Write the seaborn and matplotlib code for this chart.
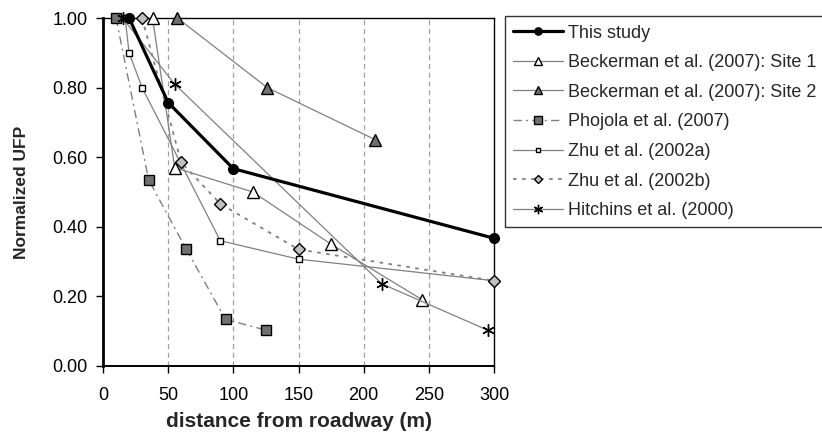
import matplotlib
matplotlib.use("Agg")
import matplotlib.pyplot as plt
import seaborn as sns
import pandas as pd

sns.set_theme(style="white")
plt.rcParams['font.family'] = ['Liberation Sans', 'DejaVu Sans']

series_names = ["This study", "Beckerman et al. (2007): Site 1", "Beckerman et al. (2007): Site 2",
                "Phojola et al. (2007)", "Zhu et al. (2002a)", "Zhu et al. (2002b)", "Hitchins et al. (2000)"]

this_x = [20, 50, 100, 300]
this_y = [1.00, 0.757, 0.567, 0.367]
beck1_x = [38, 55, 115, 175, 245]
beck1_y = [1.00, 0.57, 0.50, 0.35, 0.19]
beck2_x = [57, 126, 209]
beck2_y = [1.00, 0.80, 0.65]
phoj_x = [10, 35, 64, 94, 125]
phoj_y = [1.00, 0.535, 0.335, 0.134, 0.103]
zhua_x = [17, 20, 30, 90, 150, 300]
zhua_y = [1.00, 0.90, 0.80, 0.36, 0.307, 0.245]
zhub_x = [30, 60, 90, 150, 300]
zhub_y = [1.00, 0.585, 0.466, 0.335, 0.245]
hitch_x = [15, 55, 214, 295]
hitch_y = [1.00, 0.81, 0.236, 0.103]

xs = [this_x, beck1_x, beck2_x, phoj_x, zhua_x, zhub_x, hitch_x]
ys = [this_y, beck1_y, beck2_y, phoj_y, zhua_y, zhub_y, hitch_y]

rows = []
for n, xx, yy in zip(series_names, xs, ys):
    for a, b in zip(xx, yy):
        rows.append({"series": n, "distance": a, "ufp": b})
df = pd.DataFrame(rows)

styles = {
    "This study": dict(color="black", lw=2.3, ls="-", marker="o", ms=7, mfc="black", mec="black", z=10),
    "Beckerman et al. (2007): Site 1": dict(color="#808080", lw=0.9, ls="-", marker="^", ms=8, mfc="white", mec="black", z=5),
    "Beckerman et al. (2007): Site 2": dict(color="#808080", lw=0.9, ls="-", marker="^", ms=8, mfc="#707070", mec="black", z=5),
    "Phojola et al. (2007)": dict(color="#808080", lw=1.0, ls=(0, (6, 3, 1.5, 3)), marker="s", ms=7, mfc="#707070", mec="black", z=5),
    "Zhu et al. (2002a)": dict(color="#808080", lw=0.9, ls="-", marker="s", ms=4.5, mfc="white", mec="black", z=5),
    "Zhu et al. (2002b)": dict(color="#808080", lw=1.3, ls=(0, (2, 3)), marker="D", ms=6, mfc="#c0c0c0", mec="black", z=5),
    "Hitchins et al. (2000)": dict(color="#808080", lw=0.9, ls="-", marker=(6, 2, 0), ms=9, mfc="black", mec="black", z=5),
}

fig = plt.figure(figsize=(8.22, 4.32), dpi=100)
ax = fig.add_axes([0.1253, 0.1528, 0.4757, 0.8055])

for n in series_names:
    s = styles[n]
    sub = df[df["series"] == n]
    sns.lineplot(data=sub, x="distance", y="ufp", ax=ax, color=s["color"], lw=s["lw"],
                 linestyle=s["ls"], marker=s["marker"], markersize=s["ms"],
                 markerfacecolor=s["mfc"], markeredgecolor=s["mec"], markeredgewidth=1.0,
                 label=n, zorder=s["z"], clip_on=False, estimator=None, sort=False)

ax.set_xlim(0, 300)
ax.set_ylim(0, 1.0)
ax.set_xticks([0, 50, 100, 150, 200, 250, 300])
ax.set_yticks([0, 0.2, 0.4, 0.6, 0.8, 1.0])
ax.set_yticklabels([f"{v:.2f}" for v in [0, 0.2, 0.4, 0.6, 0.8, 1.0]])
for xv in [50, 100, 150, 200, 250]:
    ax.axvline(xv, color="#a0a0a0", ls=(0, (4, 3)), lw=0.9, zorder=1)
for sp in ax.spines.values():
    sp.set_color("black")
    sp.set_linewidth(1.0)
ax.spines["left"].set_linewidth(2.0)
ax.spines["bottom"].set_linewidth(1.4)
ax.tick_params(axis="both", direction="out", length=5, width=1.0, colors="black", labelsize=13,
               bottom=True, left=True)
ax.tick_params(axis="x", pad=10)
ax.tick_params(axis="y", pad=6)
ax.set_xlabel("distance from roadway (m)", fontsize=15, fontweight="bold", labelpad=6)
ax.set_ylabel("Normalized UFP", fontsize=12.5, fontweight="bold", labelpad=17)

handles, labels = ax.get_legend_handles_labels()
if ax.get_legend():
    ax.get_legend().remove()
leg = fig.legend(handles, labels, loc="upper left", bbox_to_anchor=(0.614, 0.962),
                 fontsize=13, frameon=True, fancybox=False, edgecolor="black",
                 handlelength=2.8, handletextpad=0.25, labelspacing=0.7, borderpad=0.45,
                 borderaxespad=0.0, markerscale=0.75)
leg.get_frame().set_linewidth(1.0)

fig.savefig("out.png", dpi=100)
